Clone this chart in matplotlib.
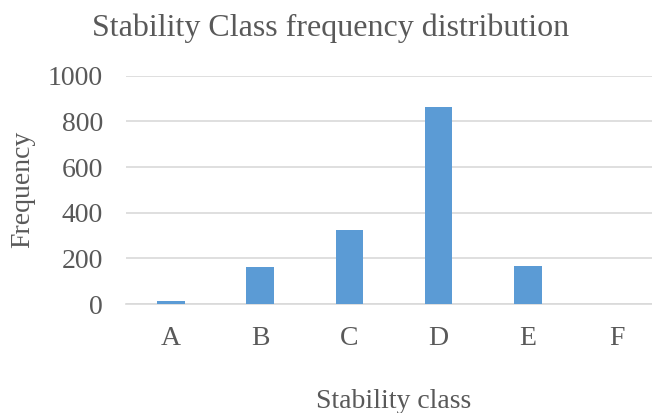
import matplotlib
matplotlib.use("Agg")
import matplotlib.pyplot as plt

# Stability class counts
classes = ["A", "B", "C", "D", "E", "F"]
frequency = [14, 162, 324, 862, 165, 0]
yticks = [0, 200, 400, 600, 800, 1000]

plt.rcParams['font.family'] = ['Liberation Serif', 'DejaVu Serif']
txt = "#595959"

fig = plt.figure(figsize=(6.52, 4.13), dpi=100)
W, H = 652, 413
# plot area runs past the right edge, like the cropped original
ax = fig.add_axes([126.4 / W, 1 - 304 / H, 535.2 / W, (304 - 75.7) / H])

ax.bar(classes, frequency, width=0.31, color="#5b9bd5", zorder=3)

ax.set_ylim(0, 1000)
ax.set_yticks(yticks)
ax.set_xlim(-0.5, 5.5)
ax.grid(axis='y', color="#d9d9d9", linewidth=1.2, zorder=0)
for s in ["top", "right", "left"]:
    ax.spines[s].set_visible(False)
ax.spines["bottom"].set_color("#d9d9d9")
ax.spines["bottom"].set_linewidth(1.2)
ax.tick_params(length=0, labelsize=20, labelcolor=txt)
ax.tick_params(axis='y', pad=17)
ax.tick_params(axis='x', pad=16)

fig.text(330.7 / W, 1 - 36 / H, "Stability Class frequency distribution",
         fontsize=23, color=txt, ha='center', va='baseline')
fig.text(23 / W, 1 - 189 / H, "Frequency", fontsize=20, color=txt,
         rotation=90, ha='center', va='center')
fig.text(394 / W, 1 - 408 / H, "Stability class", fontsize=20, color=txt,
         ha='center', va='baseline')

fig.savefig("out.png", dpi=100)
